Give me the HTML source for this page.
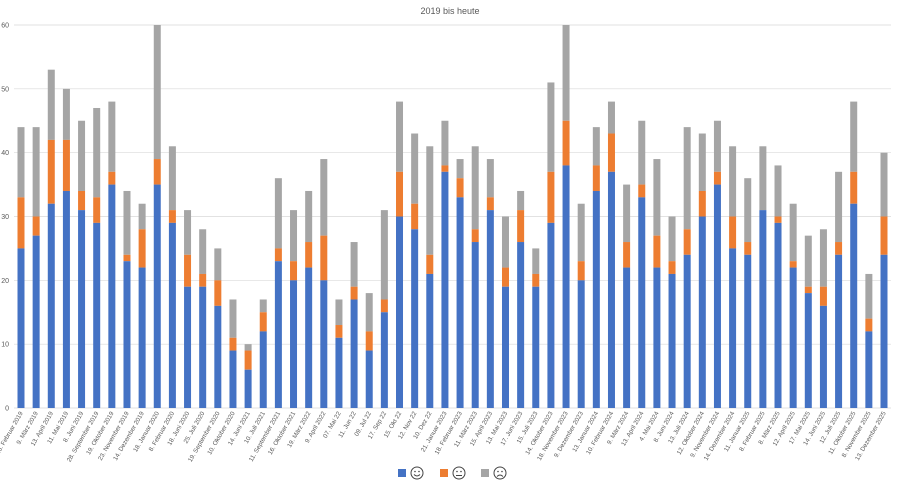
<!DOCTYPE html>
<html><head><meta charset="utf-8"><style>
html,body{margin:0;padding:0;background:#fff;}
svg{display:block;font-family:"Liberation Sans",sans-serif;}
</style></head><body>
<svg id="c" width="900" height="493" viewBox="0 0 900 493" xmlns="http://www.w3.org/2000/svg">
<text x="450" y="14" text-anchor="middle" font-size="9" fill="#595959">2019 bis heute</text>
</svg>
<script>
const labels=["16. Februar 2019","9. März 2019","13. April 2019","11. Mai 2019","8. Juni 2019","28. September 2019","19. Oktober 2019","23. November 2019","14. Dezember 2019","18. Januar 2020","8. Februar 2020","18. Juni 2020","25. Juli 2020","19. September 2020","10. Oktober 2020","14. Juni 2021","10. Juli 2021","11. September 2021","16. Oktober 2021","19. März 2022","9. April 2022","07. Mai 22","11. Jun 22","09. Jul 22","17. Sep 22","15. Okt 22","12. Nov 22","10. Dez 22","21. Januar 2023","18. Februar 2023","11. März 2023","15. April 2023","13. Mai 2023","17. Juni 2023","15. Juli 2023","14. Oktober 2023","18. November 2023","9. Dezember 2023","13. Januar 2024","10. Februar 2024","9. März 2024","13. April 2024","4. Mai 2024","8. Juni 2024","13. Juli 2024","12. Oktober 2024","9. November 2024","14. Dezember 2024","11. Januar 2025","8. Februar 2025","8. März 2025","12. April 2025","17. Mai 2025","14. Juni 2025","12. Juli 2025","11. Oktober 2025","8. November 2025","13. Dezember 2025"];
const d=[[25,33,44],[27,30,44],[32,42,53],[34,42,50],[31,34,45],[29,33,47],[35,37,48],[23,24,34],[22,28,32],[35,39,60],[29,31,41],[19,24,31],[19,21,28],[16,20,25],[9,11,17],[6,9,10],[12,15,17],[23,25,36],[20,23,31],[22,26,34],[20,27,39],[11,13,17],[17,19,26],[9,12,18],[15,17,31],[30,37,48],[28,32,43],[21,24,41],[37,38,45],[33,36,39],[26,28,41],[31,33,39],[19,22,30],[26,31,34],[19,21,25],[29,37,51],[38,45,60],[20,23,32],[34,38,44],[37,43,48],[22,26,35],[33,35,45],[22,27,39],[21,23,30],[24,28,44],[30,34,43],[35,37,45],[25,30,41],[24,26,36],[31,31,41],[29,30,38],[22,23,32],[18,19,27],[16,19,28],[24,26,37],[32,37,48],[12,14,21],[24,30,40]];
const s=document.getElementById('c');let h='';
const y0=408,k=383/60,x0=21,dx=(884-21)/57,bw=7;
for(let i=0;i<=6;i++){const y=y0-i*10*k;h+=`<line x1="14" x2="891" y1="${y}" y2="${y}" stroke="#d9d9d9" stroke-width="0.7"/><text x="9" y="${y+2.5}" font-size="7" fill="#595959" text-anchor="end">${i*10}</text>`;}
d.forEach((v,i)=>{const x=x0+i*dx-bw/2;
const Y=a=>y0-a*k;
h+=`<rect x="${x}" y="${Y(v[2])}" width="${bw}" height="${(v[2]-v[1])*k}" fill="#a5a5a5"/>`;
h+=`<rect x="${x}" y="${Y(v[1])}" width="${bw}" height="${(v[1]-v[0])*k}" fill="#ed7d31"/>`;
h+=`<rect x="${x}" y="${Y(v[0])}" width="${bw}" height="${v[0]*k}" fill="#4472c4"/>`;
h+=`<text transform="translate(${x0+i*dx+2},${413}) rotate(-60)" font-size="6.3" fill="#595959" text-anchor="end">${labels[i]}</text>`;});
function face(cx,cy,m){return `<circle cx="${cx}" cy="${cy}" r="6" fill="none" stroke="#444" stroke-width="1"/><circle cx="${cx-2}" cy="${cy-1.5}" r="0.8" fill="#444"/><circle cx="${cx+2}" cy="${cy-1.5}" r="0.8" fill="#444"/>`+(m==0?`<path d="M${cx-3} ${cy+1.5} Q${cx} ${cy+4.5} ${cx+3} ${cy+1.5}" fill="none" stroke="#444"/>`:m==1?`<line x1="${cx-3}" x2="${cx+3}" y1="${cy+2.5}" y2="${cy+2.5}" stroke="#444"/>`:`<path d="M${cx-3} ${cy+3.5} Q${cx} ${cy+0.5} ${cx+3} ${cy+3.5}" fill="none" stroke="#444"/>`);}
[["#4472c4",398],["#ed7d31",440],["#a5a5a5",481]].forEach((c,i)=>{h+=`<rect x="${c[1]}" y="469" width="8" height="8" fill="${c[0]}"/>`+face(c[1]+19,473,i);});
s.insertAdjacentHTML('beforeend',h);
</script>
</body></html>
